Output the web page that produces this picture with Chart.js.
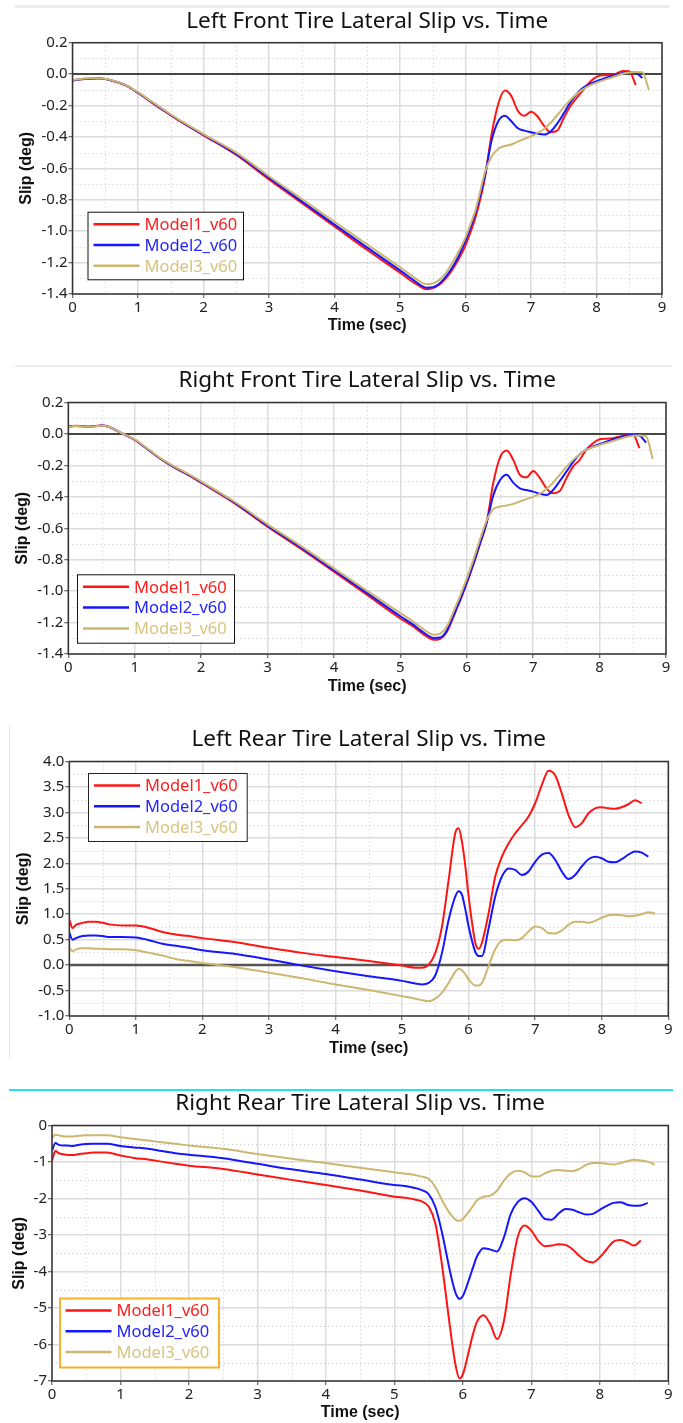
<!DOCTYPE html>
<html>
<head>
<meta charset="utf-8">
<script src="https://cdn.jsdelivr.net/npm/chart.js@4.4.1/dist/chart.umd.min.js"></script>
<style>
  html, body { margin: 0; padding: 0; background: #fff; }
  body { width: 683px; height: 1423px; position: relative; overflow: hidden; }
  canvas { position: absolute; left: 0; }
  .rule { position: absolute; }
</style>
</head>
<body>
<div class="rule" style="left:15px;top:5px;width:655px;height:3px;background:#ececec"></div>
<div class="rule" style="left:15px;top:365px;width:657px;height:2px;background:#efefef"></div>
<div class="rule" style="left:9px;top:725px;width:1px;height:334px;background:#e4e4e4"></div>
<div class="rule" style="left:9px;top:1089px;width:664px;height:2px;background:#1fe3f2"></div>
<canvas id="lf" width="683" height="345" style="top:0px"></canvas>
<canvas id="rf" width="683" height="345" style="top:360px"></canvas>
<canvas id="lr" width="683" height="345" style="top:720px"></canvas>
<canvas id="rr" width="683" height="338" style="top:1085px"></canvas>
<script>
// time base (sec), shared by every series
const time = [
  0, 0.05, 0.1, 0.2, 0.3, 0.4, 0.5, 0.6, 0.8, 1.0,
  1.2, 1.4, 1.6, 1.8, 2.0, 2.5, 3.0, 3.5, 4.0, 4.5,
  5.0, 5.2, 5.3, 5.4, 5.5, 5.6, 5.7, 5.8, 5.85, 5.9,
  5.95, 6.0, 6.1, 6.15, 6.2, 6.3, 6.4, 6.5, 6.6, 6.7,
  6.8, 6.9, 7.0, 7.1, 7.2, 7.3, 7.4, 7.5, 7.6, 7.7,
  7.8, 7.9, 8.0, 8.1, 8.2, 8.3, 8.4, 8.5, 8.6, 8.7,
  8.8
];

const seriesNames = ['Model1_v60', 'Model2_v60', 'Model3_v60'];
const lineColors = ['#ff1414', '#1616ff', '#cdb670'];
const textColors = ['#ff1c1c', '#2424ff', '#d8c47e'];

// Left front
const lfModel1 = [
  -0.040, -0.038, -0.035, -0.031, -0.029, -0.028, -0.032, -0.042, -0.070, -0.120,
  -0.178, -0.235, -0.290, -0.340, -0.390, -0.515, -0.670, -0.820, -0.970, -1.120,
  -1.265, -1.325, -1.350, -1.370, -1.362, -1.340, -1.300, -1.245, -1.210, -1.175,
  -1.135, -1.090, -0.980, -0.915, -0.840, -0.650, -0.380, -0.190, -0.105, -0.140,
  -0.235, -0.265, -0.240, -0.270, -0.330, -0.370, -0.360, -0.280, -0.205, -0.150,
  -0.100, -0.050, -0.018, -0.008, -0.008, 0.003, 0.020, 0.018, -0.070, null,
  null
];
const lfModel2 = [
  -0.040, -0.037, -0.034, -0.030, -0.028, -0.027, -0.031, -0.041, -0.069, -0.118,
  -0.175, -0.232, -0.287, -0.337, -0.386, -0.508, -0.660, -0.810, -0.958, -1.105,
  -1.250, -1.310, -1.340, -1.360, -1.357, -1.335, -1.290, -1.230, -1.195, -1.155,
  -1.110, -1.060, -0.950, -0.885, -0.810, -0.640, -0.420, -0.300, -0.265, -0.300,
  -0.345, -0.360, -0.370, -0.380, -0.385, -0.365, -0.315, -0.250, -0.180, -0.125,
  -0.085, -0.062, -0.045, -0.030, -0.016, -0.005, 0.008, 0.012, 0.008, -0.025,
  null
];
const lfModel3 = [
  -0.038, -0.035, -0.032, -0.028, -0.026, -0.026, -0.030, -0.040, -0.068, -0.115,
  -0.172, -0.228, -0.283, -0.333, -0.382, -0.500, -0.650, -0.795, -0.940, -1.085,
  -1.230, -1.290, -1.320, -1.338, -1.333, -1.310, -1.265, -1.200, -1.165, -1.125,
  -1.085, -1.040, -0.930, -0.870, -0.790, -0.620, -0.525, -0.475, -0.458, -0.448,
  -0.430, -0.412, -0.395, -0.375, -0.350, -0.310, -0.262, -0.212, -0.165, -0.125,
  -0.095, -0.072, -0.055, -0.040, -0.026, -0.012, 0.002, 0.010, 0.014, 0.012,
  -0.100
];

// Right front
const rfModel1 = [
  0.047, 0.050, 0.052, 0.050, 0.047, 0.050, 0.054, 0.047, 0.005, -0.038,
  -0.100, -0.162, -0.215, -0.260, -0.310, -0.440, -0.590, -0.730, -0.876, -1.025,
  -1.174, -1.227, -1.260, -1.290, -1.310, -1.303, -1.260, -1.163, -1.110, -1.060,
  -1.005, -0.950, -0.830, -0.765, -0.700, -0.560, -0.310, -0.150, -0.106, -0.165,
  -0.260, -0.276, -0.235, -0.280, -0.346, -0.377, -0.363, -0.282, -0.208, -0.165,
  -0.100, -0.059, -0.034, -0.030, -0.027, -0.017, -0.006, 0.000, -0.090, null,
  null
];
const rfModel2 = [
  0.046, 0.049, 0.051, 0.049, 0.046, 0.049, 0.053, 0.046, 0.005, -0.037,
  -0.098, -0.160, -0.212, -0.257, -0.306, -0.435, -0.583, -0.722, -0.867, -1.013,
  -1.160, -1.215, -1.248, -1.278, -1.298, -1.295, -1.250, -1.155, -1.105, -1.055,
  -1.000, -0.945, -0.825, -0.760, -0.695, -0.565, -0.390, -0.295, -0.260, -0.310,
  -0.346, -0.357, -0.367, -0.380, -0.388, -0.357, -0.300, -0.240, -0.180, -0.130,
  -0.100, -0.080, -0.065, -0.050, -0.035, -0.022, -0.010, -0.005, -0.010, -0.055,
  null
];
const rfModel3 = [
  0.045, 0.048, 0.050, 0.048, 0.046, 0.048, 0.052, 0.046, 0.006, -0.035,
  -0.095, -0.157, -0.208, -0.253, -0.302, -0.430, -0.575, -0.712, -0.855, -0.998,
  -1.140, -1.195, -1.228, -1.258, -1.278, -1.270, -1.225, -1.130, -1.080, -1.030,
  -0.975, -0.920, -0.800, -0.735, -0.670, -0.550, -0.478, -0.462, -0.455, -0.445,
  -0.430, -0.415, -0.400, -0.380, -0.350, -0.310, -0.260, -0.210, -0.165, -0.130,
  -0.100, -0.085, -0.070, -0.058, -0.045, -0.032, -0.020, -0.012, -0.010, -0.015,
  -0.160
];

// Left rear
const lrModel1 = [
  0.89, 0.73, 0.79, 0.83, 0.85, 0.85, 0.83, 0.80, 0.78, 0.78,
  0.73, 0.65, 0.60, 0.57, 0.53, 0.45, 0.34, 0.24, 0.16, 0.08,
  -0.01, -0.05, -0.05, 0.01, 0.24, 0.76, 1.68, 2.60, 2.69, 2.42,
  1.95, 1.35, 0.44, 0.32, 0.44, 1.02, 1.74, 2.13, 2.39, 2.59,
  2.75, 2.92, 3.18, 3.54, 3.82, 3.73, 3.37, 2.95, 2.71, 2.79,
  2.98, 3.08, 3.10, 3.08, 3.07, 3.10, 3.16, 3.24, 3.18, null,
  null
];
const lrModel2 = [
  0.63, 0.50, 0.53, 0.57, 0.58, 0.58, 0.57, 0.55, 0.55, 0.54,
  0.49, 0.42, 0.38, 0.34, 0.29, 0.22, 0.11, -0.01, -0.12, -0.22,
  -0.31, -0.36, -0.38, -0.35, -0.20, 0.24, 0.89, 1.35, 1.45, 1.38,
  1.10, 0.76, 0.26, 0.18, 0.18, 0.72, 1.35, 1.74, 1.90, 1.87,
  1.77, 1.84, 2.03, 2.17, 2.20, 2.07, 1.84, 1.69, 1.77, 1.94,
  2.08, 2.13, 2.10, 2.03, 2.02, 2.08, 2.17, 2.23, 2.21, 2.13,
  null
];
const lrModel3 = [
  0.35, 0.27, 0.31, 0.33, 0.33, 0.32, 0.32, 0.31, 0.31, 0.29,
  0.24, 0.19, 0.12, 0.08, 0.04, -0.04, -0.15, -0.26, -0.38, -0.49,
  -0.61, -0.66, -0.69, -0.71, -0.66, -0.54, -0.35, -0.13, -0.07, -0.10,
  -0.18, -0.28, -0.40, -0.40, -0.35, -0.02, 0.31, 0.48, 0.50, 0.49,
  0.53, 0.66, 0.76, 0.73, 0.63, 0.62, 0.68, 0.79, 0.85, 0.85,
  0.83, 0.87, 0.93, 0.98, 0.99, 0.98, 0.96, 0.97, 1.00, 1.04,
  1.01
];

// Right rear
const rrModel1 = [
  -0.96, -0.70, -0.76, -0.80, -0.81, -0.78, -0.76, -0.74, -0.74, -0.82,
  -0.89, -0.93, -0.99, -1.05, -1.10, -1.19, -1.34, -1.49, -1.63, -1.78,
  -1.95, -1.99, -2.03, -2.08, -2.22, -2.70, -3.89, -5.35, -6.05, -6.63,
  -6.93, -6.82, -6.08, -5.70, -5.40, -5.20, -5.44, -5.85, -5.35, -4.07,
  -3.06, -2.74, -2.88, -3.16, -3.31, -3.29, -3.25, -3.27, -3.39, -3.57,
  -3.71, -3.75, -3.61, -3.39, -3.18, -3.14, -3.20, -3.29, -3.15, null,
  null
];
const rrModel2 = [
  -0.69, -0.48, -0.53, -0.55, -0.56, -0.53, -0.51, -0.50, -0.50, -0.56,
  -0.60, -0.64, -0.70, -0.76, -0.80, -0.90, -1.05, -1.20, -1.33, -1.48,
  -1.63, -1.67, -1.71, -1.77, -1.88, -2.24, -2.97, -3.89, -4.30, -4.62,
  -4.75, -4.67, -4.16, -3.88, -3.61, -3.36, -3.40, -3.45, -3.06, -2.42,
  -2.10, -1.99, -2.09, -2.33, -2.56, -2.58, -2.41, -2.29, -2.31, -2.38,
  -2.44, -2.42, -2.31, -2.20, -2.12, -2.10, -2.17, -2.20, -2.19, -2.12,
  null
];
const rrModel3 = [
  -0.34, -0.25, -0.27, -0.30, -0.30, -0.28, -0.27, -0.27, -0.27, -0.32,
  -0.37, -0.41, -0.46, -0.50, -0.55, -0.64, -0.78, -0.91, -1.03, -1.16,
  -1.28, -1.33, -1.36, -1.40, -1.46, -1.69, -2.06, -2.38, -2.50, -2.59,
  -2.61, -2.56, -2.33, -2.20, -2.06, -1.95, -1.92, -1.78, -1.51, -1.31,
  -1.24, -1.28, -1.39, -1.40, -1.31, -1.24, -1.22, -1.24, -1.25, -1.19,
  -1.08, -1.03, -1.03, -1.05, -1.07, -1.03, -0.98, -0.94, -0.96, -0.99,
  -1.07
];

// tick labels
const xTicks = [0, 1, 2, 3, 4, 5, 6, 7, 8, 9];
const frontTicks = [0.2, 0.0, -0.2, -0.4, -0.6, -0.8, -1.0, -1.2, -1.4];
const lrTicks = [4.0, 3.5, 3.0, 2.5, 2.0, 1.5, 1.0, 0.5, 0.0, -0.5, -1.0];
const rrTicks = [0, -1, -2, -3, -4, -5, -6, -7];

const titleSize = 22.5;

// placement of each panel (canvas-relative pixels)
const panels = [
  { id: 'lf', title: 'Left Front Tire Lateral Slip vs. Time', series: [lfModel1, lfModel2, lfModel3],
    yTicks: frontTicks, decimals: 1, h: 345,
    plot: { l: 72.5, r: 662, t: 42.7, b: 294 }, titleY: 22, xTitleY: 326, yTitleX: 27,
    legend: { x: 87.5, y: 211.7, w: 155.5, h: 67.6, color: '#111', lw: 1 },
    zero: { color: '#111', width: 1.5 } },
  { id: 'rf', title: 'Right Front Tire Lateral Slip vs. Time', series: [rfModel1, rfModel2, rfModel3],
    yTicks: frontTicks, decimals: 1, h: 345,
    plot: { l: 68.3, r: 666, t: 42.5, b: 294 }, titleY: 21, xTitleY: 326.5, yTitleX: 23,
    legend: { x: 77, y: 214.3, w: 157, h: 68.4, color: '#111', lw: 1 },
    zero: { color: '#111', width: 1.5 } },
  { id: 'lr', title: 'Left Rear Tire Lateral Slip vs. Time', series: [lrModel1, lrModel2, lrModel3],
    yTicks: lrTicks, decimals: 1, h: 345,
    plot: { l: 69.3, r: 668.3, t: 41.5, b: 296 }, titleY: 19.5, xTitleY: 329, yTitleX: 24,
    legend: { x: 88, y: 53, w: 158.7, h: 68, color: '#222', lw: 1 },
    zero: { color: '#555', width: 2.5 } },
  { id: 'rr', title: 'Right Rear Tire Lateral Slip vs. Time', series: [rrModel1, rrModel2, rrModel3],
    yTicks: rrTicks, decimals: 0, h: 338,
    plot: { l: 52, r: 668.3, t: 40.5, b: 296 }, titleY: 18.5, xTitleY: 328, yTitleX: 20,
    legend: { x: 59.5, y: 213, w: 159, h: 69, color: '#f9b12c', lw: 2 },
    zero: null }
];

Chart.defaults.font.family = "'Noto Sans', sans-serif";
Chart.defaults.color = '#222';

function midpoints(arr) {
  const out = [];
  for (let i = 1; i < arr.length; i++) out.push((arr[i - 1] + arr[i]) / 2);
  return out;
}

const framePlugin = {
  id: 'frame',
  beforeDatasetsDraw(chart, args, opts) {
    const { ctx, chartArea: a, scales: { x, y } } = chart;
    ctx.save();
    ctx.strokeStyle = '#c6c6c6';
    ctx.lineWidth = 1;
    ctx.setLineDash([1, 3]);
    ctx.beginPath();
    midpoints(xTicks).forEach(v => {
      const px = Math.round(x.getPixelForValue(v)) + 0.5;
      ctx.moveTo(px, a.top); ctx.lineTo(px, a.bottom);
    });
    midpoints(opts.yTicks).forEach(v => {
      const py = Math.round(y.getPixelForValue(v)) + 0.5;
      ctx.moveTo(a.left, py); ctx.lineTo(a.right, py);
    });
    ctx.stroke();
    ctx.setLineDash([]);
    if (opts.zero) {
      const py = y.getPixelForValue(0);
      ctx.strokeStyle = opts.zero.color;
      ctx.lineWidth = opts.zero.width;
      ctx.beginPath();
      ctx.moveTo(a.left, py); ctx.lineTo(a.right, py);
      ctx.stroke();
    }
    ctx.restore();
  },
  afterDraw(chart, args, opts) {
    const { ctx, chartArea: a } = chart;
    ctx.save();
    ctx.strokeStyle = '#333';
    ctx.lineWidth = 1.5;
    ctx.strokeRect(a.left, a.top, a.right - a.left, a.bottom - a.top);

    const lg = opts.legend;
    ctx.fillStyle = '#fff';
    ctx.fillRect(lg.x, lg.y, lg.w, lg.h);
    ctx.strokeStyle = lg.color;
    ctx.lineWidth = lg.lw;
    ctx.strokeRect(lg.x + 0.5, lg.y + 0.5, lg.w, lg.h);
    ctx.font = "16.5px 'Noto Sans'";
    ctx.textBaseline = 'middle';
    chart.data.datasets.forEach((ds, i) => {
      const cy = lg.y + 12.5 + i * 20.8;
      ctx.strokeStyle = ds.borderColor;
      ctx.lineWidth = 2.5;
      ctx.beginPath();
      ctx.moveTo(lg.x + 6, cy); ctx.lineTo(lg.x + 52, cy);
      ctx.stroke();
      ctx.fillStyle = textColors[i];
      ctx.fillText(ds.label, lg.x + 57, cy + 1);
    });
    ctx.restore();
  }
};

panels.forEach(p => {
  const datasets = p.series.map((vals, i) => ({
    label: seriesNames[i],
    data: time.map((t, k) => ({ x: t, y: vals[k] })).filter(d => d.y !== null),
    borderColor: lineColors[i],
    borderWidth: 2,
    pointRadius: 0,
    tension: 0.4,
    cubicInterpolationMode: 'monotone',
    order: 2 - i
  }));

  const ticksFrom = list => scale => { scale.ticks = list.map(v => ({ value: v })); };

  new Chart(document.getElementById(p.id), {
    type: 'line',
    data: { datasets },
    plugins: [framePlugin],
    options: {
      responsive: false,
      animation: false,
      events: [],
      layout: { padding: { top: 0, left: 0, bottom: 0, right: 683 - p.plot.r } },
      plugins: {
        legend: { display: false },
        tooltip: { enabled: false },
        title: {
          display: true,
          fullSize: false,
          text: p.title,
          color: '#111',
          font: { size: titleSize, weight: 'normal' },
          padding: { top: p.titleY - titleSize * 0.6, bottom: p.plot.t - p.titleY - titleSize * 0.6 }
        },
        frame: { yTicks: p.yTicks, zero: p.zero, legend: p.legend }
      },
      scales: {
        x: {
          type: 'linear',
          min: 0, max: 9,
          afterBuildTicks: ticksFrom(xTicks),
          afterFit: s => { s.height = p.h - p.plot.b; },
          ticks: { font: { size: 15 }, padding: 1, maxRotation: 0, autoSkip: false, color: '#222' },
          grid: { color: '#dcdcdc', lineWidth: 1.5, tickLength: 4, tickColor: '#444', tickWidth: 1 },
          border: { display: false },
          title: {
            display: true, text: 'Time (sec)', color: '#111',
            font: { family: "'Liberation Sans', Arial, sans-serif", size: 16, weight: 'bold' },
            padding: { top: 0, bottom: p.h - p.xTitleY - 9.6 }
          }
        },
        y: {
          type: 'linear',
          min: p.yTicks[p.yTicks.length - 1], max: p.yTicks[0],
          afterBuildTicks: ticksFrom(p.yTicks),
          afterFit: s => { s.width = p.plot.l; },
          ticks: {
            font: { size: 15 }, padding: 1, autoSkip: false, color: '#222',
            callback: v => v.toFixed(p.decimals)
          },
          grid: { color: '#dcdcdc', lineWidth: 1.5, tickLength: 4, tickColor: '#444', tickWidth: 1 },
          border: { display: false },
          title: {
            display: true, text: 'Slip (deg)', color: '#111',
            font: { family: "'Liberation Sans', Arial, sans-serif", size: 16, weight: 'bold' },
            padding: { top: p.yTitleX - 9.6, bottom: 0 }
          }
        }
      }
    }
  });
});
</script>
</body>
</html>
